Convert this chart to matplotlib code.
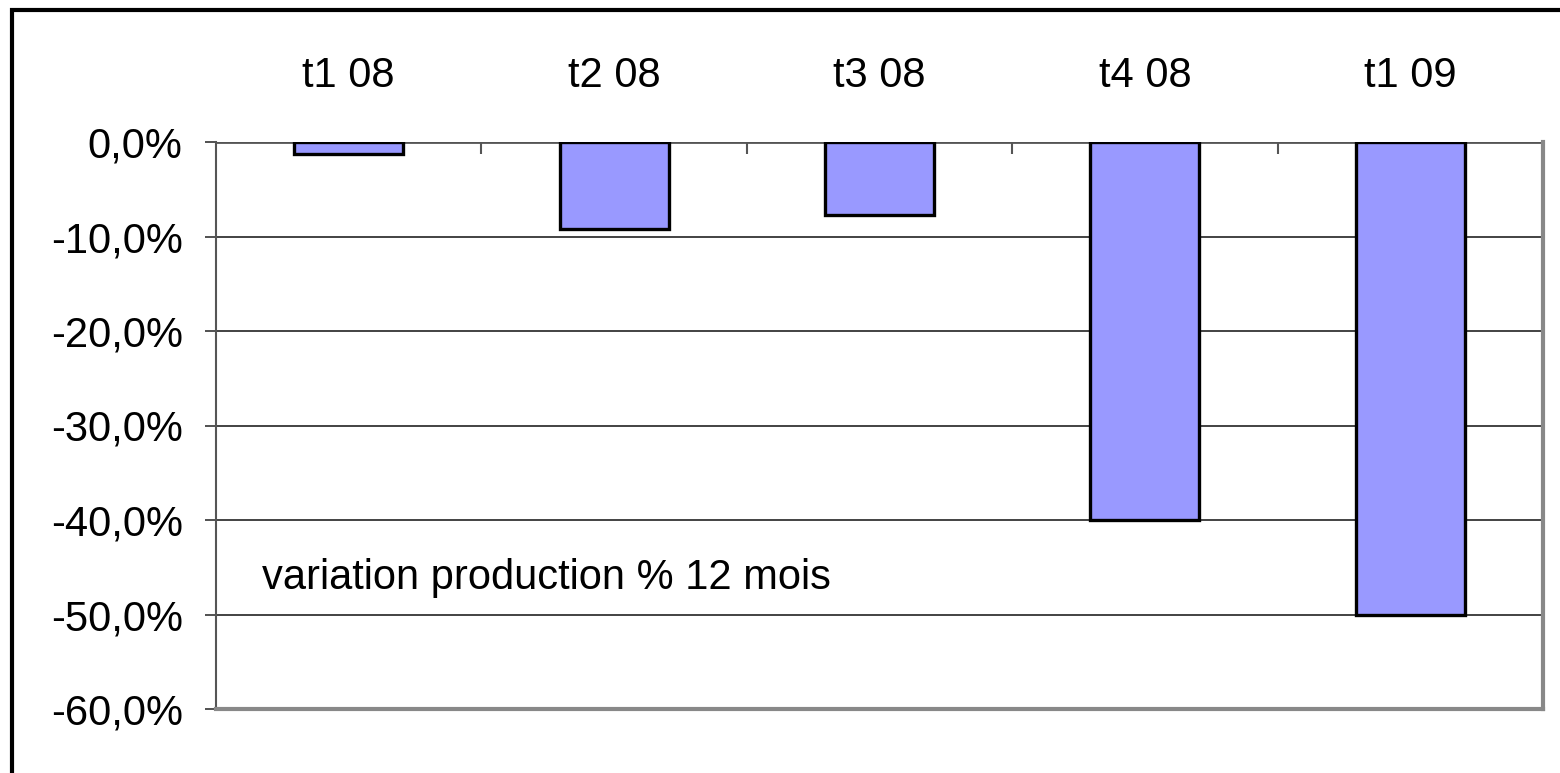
import matplotlib
matplotlib.use("Agg")
import matplotlib.pyplot as plt
from matplotlib.patches import Rectangle
from matplotlib.ticker import FixedLocator, FuncFormatter
from matplotlib.transforms import blended_transform_factory, offset_copy

categories = ["t1 08", "t2 08", "t3 08", "t4 08", "t1 09"]
variation = [-1.3, -9.2, -7.7, -40.0, -50.0]
y_ticks = [0, -10, -20, -30, -40, -50, -60]
series_label = "variation production % 12 mois"

plt.rcParams["font.family"] = ["Liberation Sans", "DejaVu Sans"]

W, H = 1560, 773
fig = plt.figure(figsize=(W / 100, H / 100), dpi=100)
fig.patch.set_facecolor("white")

# outer chart frame (runs off the right and bottom edges)
fig.add_artist(Rectangle((12 / W, -0.2), 1.2, 1.2 - 10 / H, transform=fig.transFigure,
                         fill=False, edgecolor="black", linewidth=3.0))

ax = fig.add_axes([216 / W, 1 - 709 / H, (1543 - 216) / W, (709 - 142) / H])
x = list(range(len(categories)))
ax.bar(x, variation, width=0.41, color="#9999FF", edgecolor="black", linewidth=2.4, zorder=3)

ax.set_xlim(-0.5, len(categories) - 0.5)
ax.set_ylim(-60, 0)
ax.set_yticks(y_ticks)
ax.yaxis.set_major_formatter(FuncFormatter(lambda v, p: f"{v:.1f}%".replace(".", ",")))
ax.grid(axis="y", color="#222222", linewidth=1.2, zorder=1)
ax.axhline(0, color="#555555", linewidth=2, zorder=2)

ax.xaxis.tick_top()
ax.set_xticks(x)
ax.set_xticklabels(categories)
ax.xaxis.set_minor_locator(FixedLocator([i + 0.5 for i in range(len(categories) - 1)]))
ax.tick_params(axis="x", which="major", length=0, pad=33, labelsize=30)
ax.tick_params(axis="x", which="minor", length=8.5, width=1.5, direction="in", color="#555555", top=True)
ax.tick_params(axis="y", length=8, width=1.2, color="#333333", pad=16, labelsize=30)

ax.spines["top"].set_visible(False)
ax.spines["left"].set_color("#555555")
ax.spines["left"].set_linewidth(1.5)
for s in ("right", "bottom"):
    ax.spines[s].set_color("#888888")
    ax.spines[s].set_linewidth(3)

# series caption, offset a fixed distance from the left edge of the plot area
caption_tf = offset_copy(blended_transform_factory(ax.transAxes, ax.transData), fig=fig,
                         x=46, y=0, units="dots")
ax.text(0, -46.1, series_label, transform=caption_tf, fontsize=30, va="center")

fig.savefig("out.png", dpi=100, facecolor="white")
